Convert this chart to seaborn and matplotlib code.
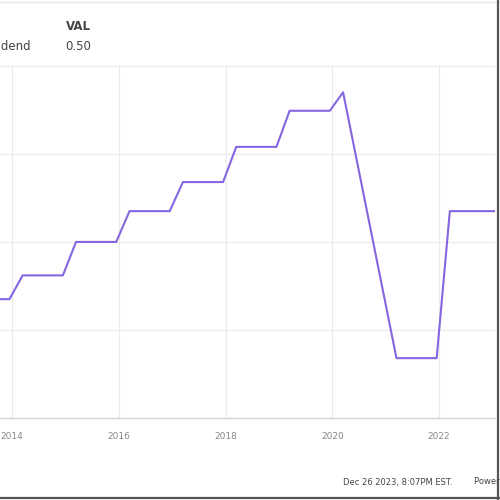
import matplotlib
matplotlib.use("Agg")
import matplotlib.pyplot as plt
import matplotlib.dates as mdates
import seaborn as sns
import pandas as pd

# quarterly dividend values
dates = ["2013-09-15", "2013-12-15",
         "2014-03-15", "2014-06-15", "2014-09-15", "2014-12-15",
         "2015-03-15", "2015-06-15", "2015-09-15", "2015-12-15",
         "2016-03-15", "2016-06-15", "2016-09-15", "2016-12-15",
         "2017-03-15", "2017-06-15", "2017-09-15", "2017-12-15",
         "2018-03-15", "2018-06-15", "2018-09-15", "2018-12-15",
         "2019-03-15", "2019-06-15", "2019-09-15", "2019-12-15",
         "2020-03-15",
         "2021-03-15", "2021-06-15", "2021-09-15", "2021-12-15",
         "2022-03-15", "2022-06-15", "2022-09-15", "2022-12-15",
         "2023-03-15"]
dividend = [0.40, 0.40,
            0.427, 0.427, 0.427, 0.427,
            0.465, 0.465, 0.465, 0.465,
            0.50, 0.50, 0.50, 0.50,
            0.533, 0.533, 0.533, 0.533,
            0.573, 0.573, 0.573, 0.573,
            0.614, 0.614, 0.614, 0.614,
            0.635,
            0.333, 0.333, 0.333, 0.333,
            0.50, 0.50, 0.50, 0.50,
            0.50]
year_ticks = ["2014-01-01", "2016-01-01", "2018-01-01", "2020-01-01", "2022-01-01"]
grid_values = [0.265, 0.365, 0.465, 0.565, 0.665]

df = pd.DataFrame({"Date": pd.to_datetime(dates), "Dividend": dividend})

sns.set_theme(style="white")
fig = plt.figure(figsize=(5, 5), dpi=100)
ax = fig.add_axes([0.0, 0.164, 0.99, 0.706])

sns.lineplot(x="Date", y="Dividend", data=df, color="#8466e0", linewidth=1.5, ax=ax)

ax.set_xlim(pd.Timestamp("2013-10-11"), pd.Timestamp("2023-01-18"))
ax.set_ylim(0.265, 0.666)
ax.set_yticks(grid_values)
ax.set_xticks(pd.to_datetime(year_ticks))
ax.xaxis.set_major_formatter(mdates.DateFormatter("%Y"))
ax.tick_params(axis="y", left=False, labelleft=False)
ax.tick_params(axis="x", bottom=False, length=0, labelsize=6.5,
               labelcolor="#888888", pad=10)
ax.grid(True, color="#ebebeb", linewidth=0.9)
ax.set_xlabel("")
ax.set_ylabel("")
for side in ["top", "left", "right"]:
    ax.spines[side].set_visible(False)
ax.spines["bottom"].set_color("#d6d6d6")
ax.spines["bottom"].set_linewidth(1.0)

# header (cropped legend table)
fig.text(78 / 500, 1 - 27 / 500, "VAL", fontsize=8.5, color="#444444",
         ha="center", va="center", fontweight="bold")
fig.text(78 / 500, 1 - 47 / 500, "0.50", fontsize=8.5, color="#444444",
         ha="center", va="center")
fig.text(31 / 500, 1 - 47 / 500, "Dividend", fontsize=8.5, color="#444444",
         ha="right", va="center")

# footer
fig.text(343 / 500, 1 - 482 / 500, "Dec 26 2023, 8:07PM EST.",
         fontsize=6, color="#444444", ha="left", va="center")
fig.text(474 / 500, 1 - 482 / 500, "Powered by YCHARTS",
         fontsize=6, color="#444444", ha="left", va="center")

# frame
fig.add_artist(plt.Line2D([0, 1], [0.997, 0.997], color="#e6e6e6", linewidth=1.0))
fig.add_artist(plt.Line2D([0.995, 0.995], [0, 1], color="#555555", linewidth=1.6))
fig.add_artist(plt.Line2D([0, 1], [0.005, 0.005], color="#555555", linewidth=1.6))

fig.savefig("out.png", dpi=100)
